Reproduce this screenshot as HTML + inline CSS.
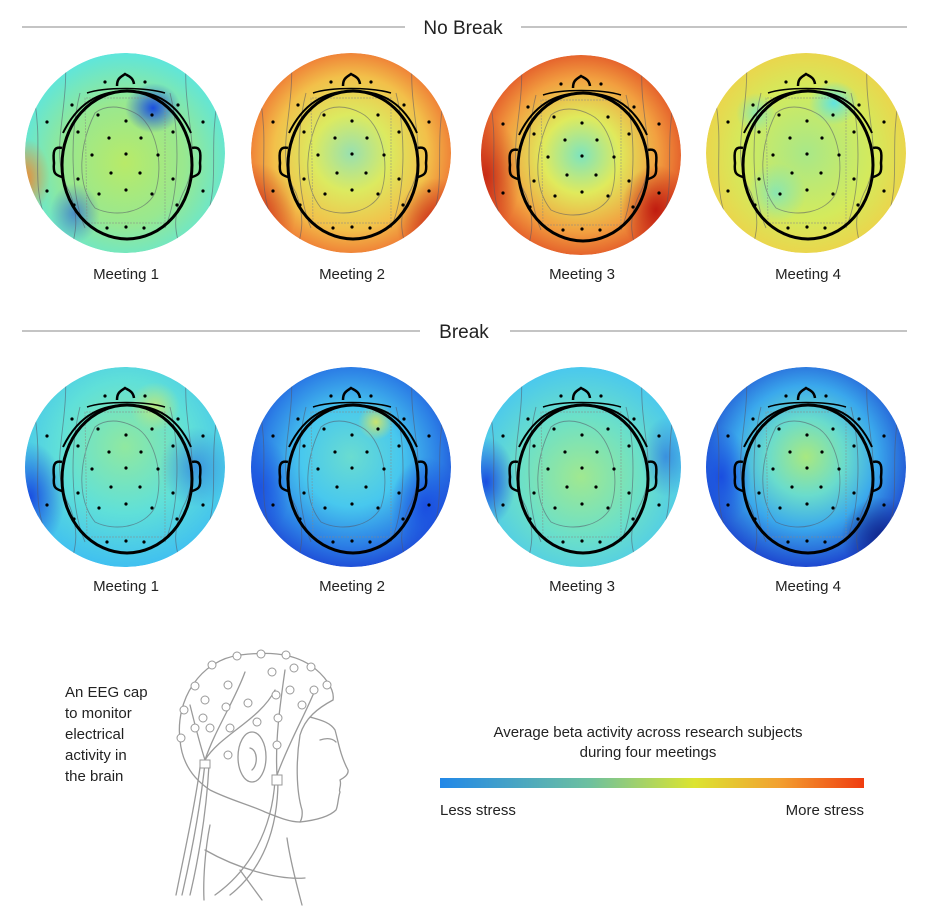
<!DOCTYPE html>
<html><head><meta charset="utf-8"><style>
html,body{margin:0;padding:0;background:#fff;}
svg{display:block;font-family:"Liberation Sans",sans-serif;}
</style></head><body>
<svg width="929" height="910" viewBox="0 0 929 910" xmlns="http://www.w3.org/2000/svg">
<defs>
<clipPath id="cc"><circle cx="0" cy="0" r="100"/></clipPath>
<radialGradient id="a1" cx="0.5" cy="0.55" r="0.55"><stop offset="0" stop-color="#b8ea68"/><stop offset="0.55" stop-color="#98e890"/><stop offset="1" stop-color="#5ee6dc"/></radialGradient>
<radialGradient id="a2" cx="0.5" cy="0.5" r="0.55"><stop offset="0" stop-color="#98e0b0"/><stop offset="0.35" stop-color="#dcea60"/><stop offset="0.7" stop-color="#f2c04a"/><stop offset="1" stop-color="#ee6a30"/></radialGradient>
<radialGradient id="a3" cx="0.5" cy="0.5" r="0.55"><stop offset="0" stop-color="#7ee4be"/><stop offset="0.35" stop-color="#e0ea5c"/><stop offset="0.7" stop-color="#f2a040"/><stop offset="1" stop-color="#e04a24"/></radialGradient>
<radialGradient id="a4" cx="0.5" cy="0.5" r="0.55"><stop offset="0" stop-color="#a8e888"/><stop offset="0.6" stop-color="#d4ea5c"/><stop offset="1" stop-color="#f0d048"/></radialGradient>
<radialGradient id="b1" cx="0.5" cy="0.4" r="0.6"><stop offset="0" stop-color="#90e8a0"/><stop offset="0.55" stop-color="#60e0d8"/><stop offset="1" stop-color="#40c0f0"/></radialGradient>
<radialGradient id="b2" cx="0.5" cy="0.45" r="0.55"><stop offset="0" stop-color="#6adcd0"/><stop offset="0.45" stop-color="#48c8ee"/><stop offset="0.8" stop-color="#2c80e6"/><stop offset="1" stop-color="#2050d8"/></radialGradient>
<radialGradient id="b3" cx="0.5" cy="0.55" r="0.55"><stop offset="0" stop-color="#a0e890"/><stop offset="0.55" stop-color="#6ce0c8"/><stop offset="1" stop-color="#4ac8ee"/></radialGradient>
<radialGradient id="b4" cx="0.5" cy="0.45" r="0.55"><stop offset="0" stop-color="#a8e880"/><stop offset="0.35" stop-color="#6adccc"/><stop offset="0.65" stop-color="#3aa8ec"/><stop offset="1" stop-color="#1e48d0"/></radialGradient>
<radialGradient id="sb"><stop offset="0" stop-color="#1a4ee0" stop-opacity="1"/><stop offset="1" stop-color="#1a4ee0" stop-opacity="0"/></radialGradient>
<radialGradient id="sdb"><stop offset="0" stop-color="#10288c" stop-opacity="1"/><stop offset="1" stop-color="#10288c" stop-opacity="0"/></radialGradient>
<radialGradient id="sr"><stop offset="0" stop-color="#c01c10" stop-opacity="1"/><stop offset="1" stop-color="#c01c10" stop-opacity="0"/></radialGradient>
<radialGradient id="so"><stop offset="0" stop-color="#f08a30" stop-opacity="1"/><stop offset="1" stop-color="#f08a30" stop-opacity="0"/></radialGradient>
<radialGradient id="sc"><stop offset="0" stop-color="#60e4e0" stop-opacity="1"/><stop offset="1" stop-color="#60e4e0" stop-opacity="0"/></radialGradient>
<radialGradient id="sy"><stop offset="0" stop-color="#e8ea50" stop-opacity="1"/><stop offset="1" stop-color="#e8ea50" stop-opacity="0"/></radialGradient>
<linearGradient id="bar" x1="0" x2="1"><stop offset="0" stop-color="#2288e8"/><stop offset="0.35" stop-color="#6cc0a0"/><stop offset="0.6" stop-color="#dce430"/><stop offset="0.8" stop-color="#f2a030"/><stop offset="1" stop-color="#f03c10"/></linearGradient>
<g id="cont" fill="none" stroke="#556" stroke-width="0.9" opacity="0.55">
  <path d="M-60,-100 C-55,-40 -78,0 -55,40 C-40,80 -60,95 -50,100"/>
  <path d="M62,-100 C55,-40 80,0 58,40 C40,80 62,95 52,100"/>
  <path d="M-90,-50 C-82,0 -95,30 -78,70"/>
  <path d="M92,-50 C84,0 95,30 80,70"/>
  <path d="M-30,-40 C-45,-10 -50,30 -30,55 C-10,65 20,60 30,40 C40,10 30,-30 10,-40 C-5,-48 -20,-48 -30,-40 Z"/>
  <path d="M-45,-60 C-55,-20 -55,40 -40,75 M45,-60 C55,-20 55,40 40,75"/>
  <path d="M-40,-55 L-38,70 L40,70 L40,-55 Z" stroke="#888" stroke-dasharray="2 1"/>
</g>
<g id="head">
 <g fill="none" stroke="#000" stroke-width="3">
  <ellipse cx="2" cy="12" rx="65" ry="74"/>
  <path d="M-62,-20 C-45,-55 -20,-62 2,-62 C25,-62 50,-55 66,-20" stroke-width="2"/>
  <path d="M-8,-67 C-8,-75 -4,-76 0,-79 C3,-77 8,-76 9,-69" stroke-width="2.5"/>
  <path d="M-63,-5 C-72,-7 -72,0 -71,10 C-72,20 -70,22 -63,24" stroke-width="2.5"/>
  <path d="M67,-5 C76,-7 76,0 75,10 C76,20 74,22 67,24" stroke-width="2.5"/>
  <path d="M-38,-60 C-20,-66 20,-66 40,-60" stroke-width="1.5"/>
 </g>
 <g fill="#000">
  <circle cx="-20" cy="-71" r="1.6"/><circle cx="20" cy="-71" r="1.6"/>
  <circle cx="-53" cy="-48" r="1.6"/><circle cx="53" cy="-48" r="1.6"/>
  <circle cx="-27" cy="-38" r="1.6"/><circle cx="27" cy="-38" r="1.6"/>
  <circle cx="-78" cy="-31" r="1.6"/><circle cx="78" cy="-31" r="1.6"/><circle cx="1" cy="-32" r="1.6"/>
  <circle cx="-47" cy="-21" r="1.6"/><circle cx="48" cy="-21" r="1.6"/>
  <circle cx="-16" cy="-15" r="1.6"/><circle cx="16" cy="-15" r="1.6"/>
  <circle cx="-33" cy="2" r="1.6"/><circle cx="1" cy="1" r="1.6"/><circle cx="33" cy="2" r="1.6"/>
  <circle cx="-14" cy="20" r="1.6"/><circle cx="15" cy="20" r="1.6"/>
  <circle cx="-47" cy="26" r="1.6"/><circle cx="48" cy="26" r="1.6"/>
  <circle cx="-78" cy="38" r="1.6"/><circle cx="78" cy="38" r="1.6"/>
  <circle cx="-26" cy="41" r="1.6"/><circle cx="1" cy="37" r="1.6"/><circle cx="27" cy="41" r="1.6"/>
  <circle cx="-51" cy="52" r="1.6"/><circle cx="52" cy="52" r="1.6"/>
  <circle cx="-18" cy="75" r="1.6"/><circle cx="1" cy="74" r="1.6"/><circle cx="19" cy="75" r="1.6"/>
 </g>
</g>
</defs>

<line x1="22" y1="27" x2="405" y2="27" stroke="#888" stroke-width="1"/>
<line x1="521" y1="27" x2="907" y2="27" stroke="#888" stroke-width="1"/>
<text x="463" y="34" font-size="19" text-anchor="middle" fill="#222">No Break</text>
<line x1="22" y1="331" x2="420" y2="331" stroke="#888" stroke-width="1"/>
<line x1="510" y1="331" x2="907" y2="331" stroke="#888" stroke-width="1"/>
<text x="464" y="338" font-size="19" text-anchor="middle" fill="#222">Break</text>

<g transform="translate(125,153)"><g clip-path="url(#cc)">
 <circle r="100" fill="url(#a1)"/>
 <ellipse cx="28" cy="-45" rx="28" ry="25" fill="url(#sb)"/>
 <ellipse cx="-100" cy="25" rx="25" ry="40" fill="url(#so)"/>
 <ellipse cx="-50" cy="60" rx="25" ry="30" fill="url(#sb)" opacity="0.6"/>
 <use href="#cont"/>
</g><use href="#head"/></g>
<g transform="translate(351,153)"><g clip-path="url(#cc)">
 <circle r="100" fill="url(#a2)"/>
 <ellipse cx="-95" cy="60" rx="40" ry="50" fill="url(#sr)" opacity="0.7"/>
 <ellipse cx="85" cy="70" rx="40" ry="45" fill="url(#sr)" opacity="0.8"/>
 <use href="#cont"/>
</g><use href="#head"/></g>
<g transform="translate(581,155)"><g clip-path="url(#cc)">
 <circle r="100" fill="url(#a3)"/>
 <ellipse cx="-95" cy="20" rx="35" ry="60" fill="url(#sr)" opacity="0.8"/>
 <ellipse cx="75" cy="55" rx="35" ry="45" fill="url(#sr)"/>
 <use href="#cont"/>
</g><use href="#head"/></g>
<g transform="translate(806,153)"><g clip-path="url(#cc)">
 <circle r="100" fill="url(#a4)"/>
 <ellipse cx="28" cy="-50" rx="25" ry="22" fill="url(#sc)"/>
 <ellipse cx="-30" cy="40" rx="30" ry="30" fill="url(#sc)" opacity="0.6"/>
 <ellipse cx="-50" cy="-40" rx="20" ry="20" fill="url(#sc)" opacity="0.6"/>
 <use href="#cont"/>
</g><use href="#head"/></g>

<g font-size="15" fill="#222" text-anchor="middle">
<text x="126" y="279">Meeting 1</text><text x="352" y="279">Meeting 2</text>
<text x="582" y="279">Meeting 3</text><text x="808" y="279">Meeting 4</text>
<text x="126" y="591">Meeting 1</text><text x="352" y="591">Meeting 2</text>
<text x="582" y="591">Meeting 3</text><text x="808" y="591">Meeting 4</text>
</g>

<g transform="translate(125,467)"><g clip-path="url(#cc)">
 <circle r="100" fill="url(#b1)"/>
 <ellipse cx="-95" cy="30" rx="35" ry="55" fill="url(#sb)"/>
 <ellipse cx="70" cy="0" rx="35" ry="40" fill="url(#sb)" opacity="0.5"/>
 <ellipse cx="30" cy="-60" rx="25" ry="25" fill="url(#sy)" opacity="0.6"/>
 <use href="#cont"/>
</g><use href="#head"/></g>
<g transform="translate(351,467)"><g clip-path="url(#cc)">
 <circle r="100" fill="url(#b2)"/>
 <ellipse cx="75" cy="40" rx="35" ry="50" fill="url(#sb)"/>
 <ellipse cx="-90" cy="20" rx="30" ry="50" fill="url(#sb)" opacity="0.8"/>
 <ellipse cx="25" cy="-45" rx="18" ry="18" fill="url(#sy)" opacity="0.8"/>
 <use href="#cont"/>
</g><use href="#head"/></g>
<g transform="translate(581,467)"><g clip-path="url(#cc)">
 <circle r="100" fill="url(#b3)"/>
 <ellipse cx="-95" cy="15" rx="30" ry="45" fill="url(#sb)"/>
 <ellipse cx="85" cy="-10" rx="25" ry="40" fill="url(#sb)" opacity="0.5"/>
 <use href="#cont"/>
</g><use href="#head"/></g>
<g transform="translate(806,467)"><g clip-path="url(#cc)">
 <circle r="100" fill="url(#b4)"/>
 <ellipse cx="75" cy="70" rx="40" ry="40" fill="url(#sdb)"/>
 <ellipse cx="-85" cy="10" rx="30" ry="50" fill="url(#sb)"/>
 <use href="#cont"/>
</g><use href="#head"/></g>

<g font-size="15" fill="#222">
<text x="65" y="697">An EEG cap</text>
<text x="65" y="718">to monitor</text>
<text x="65" y="739">electrical</text>
<text x="65" y="760">activity in</text>
<text x="65" y="781">the brain</text>
<text x="648" y="737" text-anchor="middle">Average beta activity across research subjects</text>
<text x="648" y="757" text-anchor="middle">during four meetings</text>
<text x="440" y="815">Less stress</text>
<text x="864" y="815" text-anchor="end">More stress</text>
</g>
<rect x="440" y="778" width="424" height="10" fill="url(#bar)"/>

<g fill="none" stroke="#9a9a9a" stroke-width="1.3" stroke-linecap="round">
 <path d="M180,740 C175,700 200,660 240,655 C265,652 290,652 310,665 C325,675 335,690 333,700"/>
 <path d="M333,700 C318,708 305,718 300,735 C296,760 296,790 302,810 C303,818 300,822 300,822"/>
 <path d="M180,740 C182,765 195,780 210,790 C230,800 250,805 265,812 C280,818 290,822 300,822"/>
 <path d="M310,717 C320,720 330,722 335,730 C338,740 340,755 348,770 C349,775 343,778 340,780 C342,786 338,790 340,792 C338,798 338,806 336,810 C330,816 318,820 300,822"/>
 <path d="M320,740 C326,738 332,738 336,742"/>
 <path d="M287,838 C290,860 298,890 302,905"/>
 <path d="M210,825 C205,850 203,880 204,900"/>
 <path d="M205,850 C240,870 280,880 305,878"/>
 <path d="M240,870 L262,900"/>
 <ellipse cx="252" cy="757" rx="14" ry="25"/>
 <path d="M250,748 C258,750 258,765 252,770"/>
 <path d="M201,760 C196,800 185,850 176,895"/>
 <path d="M205,763 C200,810 190,860 182,895"/>
 <path d="M209,765 C206,820 196,870 190,895"/>
 <path d="M275,780 C272,830 250,870 215,895"/>
 <path d="M278,780 C278,830 262,870 230,895"/>
 <path d="M205,760 C215,730 235,700 245,672"/>
 <path d="M205,760 C220,735 260,720 275,690"/>
 <path d="M277,775 C275,740 280,705 285,670"/>
 <path d="M277,775 C290,740 305,715 315,690"/>
 <path d="M190,705 C195,725 200,745 205,760"/>
</g>
<g fill="#fff" stroke="#999" stroke-width="1">
 <circle cx="237" cy="656" r="4"/><circle cx="261" cy="654" r="4"/><circle cx="286" cy="655" r="4"/>
 <circle cx="311" cy="667" r="4"/><circle cx="327" cy="685" r="4"/><circle cx="212" cy="665" r="4"/>
 <circle cx="195" cy="686" r="4"/><circle cx="184" cy="710" r="4"/><circle cx="181" cy="738" r="4"/>
 <circle cx="205" cy="700" r="4"/><circle cx="228" cy="685" r="4"/><circle cx="226" cy="707" r="4"/>
 <circle cx="248" cy="703" r="4"/><circle cx="203" cy="718" r="4"/><circle cx="195" cy="728" r="4"/>
 <circle cx="210" cy="728" r="4"/><circle cx="230" cy="728" r="4"/><circle cx="257" cy="722" r="4"/>
 <circle cx="276" cy="695" r="4"/><circle cx="290" cy="690" r="4"/><circle cx="294" cy="668" r="4"/>
 <circle cx="272" cy="672" r="4"/><circle cx="302" cy="705" r="4"/><circle cx="314" cy="690" r="4"/>
 <circle cx="278" cy="718" r="4"/><circle cx="277" cy="745" r="4"/><circle cx="228" cy="755" r="4"/>
 <rect x="200" y="760" width="10" height="8"/><rect x="272" y="775" width="10" height="10"/>
</g>
</svg>
</body></html>
